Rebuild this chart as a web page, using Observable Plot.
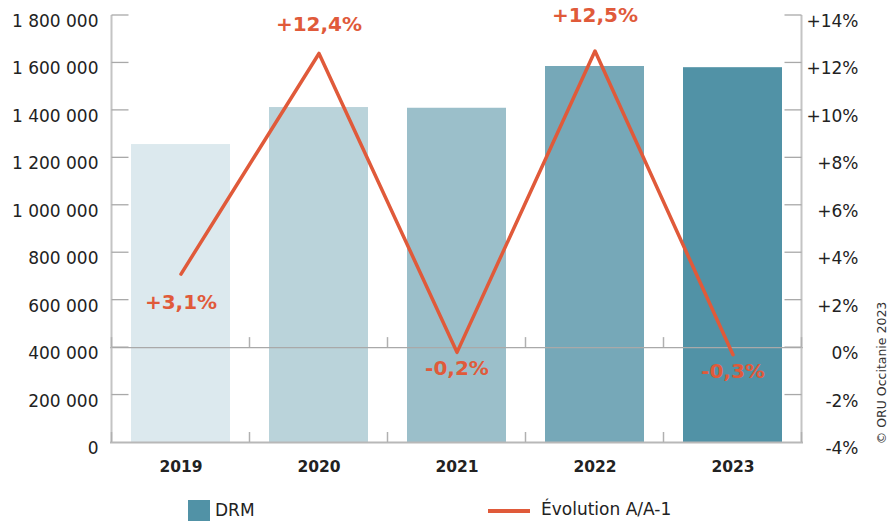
<!DOCTYPE html>
<html><head><meta charset="utf-8">
<script src="https://cdn.jsdelivr.net/npm/d3@7"></script>
<script src="https://cdn.jsdelivr.net/npm/@observablehq/plot@0.6"></script>
<style>
body{margin:0;background:#fff;font-family:"DejaVu Sans",Verdana,sans-serif;color:#222;}
#wrap{position:relative;width:890px;height:521px;overflow:hidden;}
#chart svg{display:block;}
.leg{position:absolute;font-size:17px;line-height:20px;color:#222;}
</style></head><body>
<div id="wrap"><div id="chart"></div>
<div class="leg" style="left:188px;top:500px;width:22px;height:21px;background:#5192a6"></div>
<div class="leg" style="left:215px;top:500px;">DRM</div>
<div class="leg" style="left:488px;top:509px;width:42px;height:4px;background:#e05a3a"></div>
<div class="leg" style="left:541px;top:499px;">Évolution A/A-1</div>
</div>
<script>
const years = ["2019", "2020", "2021", "2022", "2023"];
const drm = [1256000, 1412000, 1409000, 1585000, 1580000];
const evolution = [3.1, 12.4, -0.2, 12.5, -0.3];
const evolutionLabels = ["+3,1%", "+12,4%", "-0,2%", "+12,5%", "-0,3%"];
const barColors = ["#dce9ee", "#bad3da", "#9bbfca", "#76a8b8", "#5192a6"];
const leftTicks = [0, 200000, 400000, 600000, 800000, 1000000, 1200000, 1400000, 1600000, 1800000];
const rightTicks = [-4, -2, 0, 2, 4, 6, 8, 10, 12, 14];
const legendLabels = ["DRM", "Évolution A/A-1"];
const credit = "© ORU Occitanie 2023";

// secondary axis: -4% .. +14% aligned with 0 .. 1 800 000
const toY = p => (p + 4) * 100000;
const fromY = v => v / 100000 - 4;
const fmtNum = v => d3.format(",")(v).replace(/,/g, " ");
const fmtPct = p => (p > 0 ? "+" : "") + Math.round(p) + "%";

const rows = years.map((y, i) => ({year: y, drm: drm[i], evo: evolution[i], label: evolutionLabels[i], color: barColors[i]}));
const labelColor = "#e05a3a";
const lblOpts = (yr, dy) => ({filter: d => d.year === yr, x: "year", y: d => toY(d.evo), text: "label", dy, fill: labelColor, fontSize: 20, fontWeight: "bold"});

const chart = Plot.plot({
  width: 890, height: 490,
  marginLeft: 110, marginRight: 87, marginTop: 15, marginBottom: 48,
  style: {fontFamily: '"DejaVu Sans", Verdana, sans-serif', background: "transparent", color: "#222", overflow: "visible"},
  x: {domain: years, paddingInner: 0.28, paddingOuter: 0.14, axis: null},
  y: {domain: [0, 1800000], axis: null},
  color: {type: "identity"},
  marks: [
    Plot.barY(rows, {x: "year", y: "drm", fill: "color"}),
    Plot.ruleY([toY(0)], {stroke: "#a9a9a9", strokeWidth: 1.3}),
    Plot.ruleY([0], {stroke: "#b8b8b8", strokeWidth: 2}),
    Plot.axisX({tickSize: 0, tickPadding: 18, fontSize: 15.5, fontWeight: "bold", fill: "#222", label: null}),
    Plot.axisY(leftTicks, {anchor: "left", tickSize: 0, tickPadding: 12, fontSize: 17, dy: 6, tickFormat: fmtNum, fill: "#222", label: null}),
    Plot.axisY(rightTicks.map(toY), {anchor: "right", tickSize: 0, tickPadding: 55, textAnchor: "end", fontSize: 17, dy: 6, tickFormat: v => fmtPct(fromY(v)), fill: "#222", label: null}),
    Plot.lineY(rows, {x: "year", y: d => toY(d.evo), stroke: "#e05a3a", strokeWidth: 3.5}),
    Plot.text(rows, lblOpts("2019", 29)),
    Plot.text(rows, lblOpts("2020", -29)),
    Plot.text(rows, lblOpts("2021", 16)),
    Plot.text(rows, lblOpts("2022", -35)),
    Plot.text(rows, lblOpts("2023", 17))
  ]
});
document.getElementById("chart").appendChild(chart);

// axis lines, inner ticks and category separators using the chart's scales
const sx = chart.scale("x"), sy = chart.scale("y");
const svg = d3.select(chart);
const g = svg.append("g");
const step = sx.step, bw = sx.bandwidth;
const left = sx.apply(years[0]) - (step - bw) / 2;
const right = sx.apply(years[years.length - 1]) + bw + (step - bw) / 2;
const y0 = sy.apply(0), yTop = sy.apply(1800000), yZero = sy.apply(toY(0));
g.append("line").attr("x1", left).attr("x2", left).attr("y1", yTop).attr("y2", y0).attr("stroke", "#c4c4c4").attr("stroke-width", 2);
g.append("line").attr("x1", right).attr("x2", right).attr("y1", yTop).attr("y2", y0).attr("stroke", "#c4c4c4").attr("stroke-width", 2);
leftTicks.forEach(v => {
  if (v === 0) return;
  const yy = sy.apply(v);
  g.append("line").attr("x1", left).attr("x2", left + 17).attr("y1", yy).attr("y2", yy).attr("stroke", "#a9a9a9").attr("stroke-width", 1.3);
  g.append("line").attr("x1", right - 17).attr("x2", right).attr("y1", yy).attr("y2", yy).attr("stroke", "#a9a9a9").attr("stroke-width", 1.3);
});
for (let i = 0; i <= years.length; i++) {
  const xx = left + i * step;
  [y0, yZero].forEach(yb => {
    g.append("line").attr("x1", xx).attr("x2", xx).attr("y1", yb - 10).attr("y2", yb).attr("stroke", "#b0b0b0").attr("stroke-width", 1.5);
  });
}
svg.append("text").attr("transform", "translate(882,373) rotate(-90)").attr("text-anchor", "middle").attr("dominant-baseline", "middle")
  .attr("font-size", 12.5).attr("fill", "#333").text(credit);
</script>
</body></html>
